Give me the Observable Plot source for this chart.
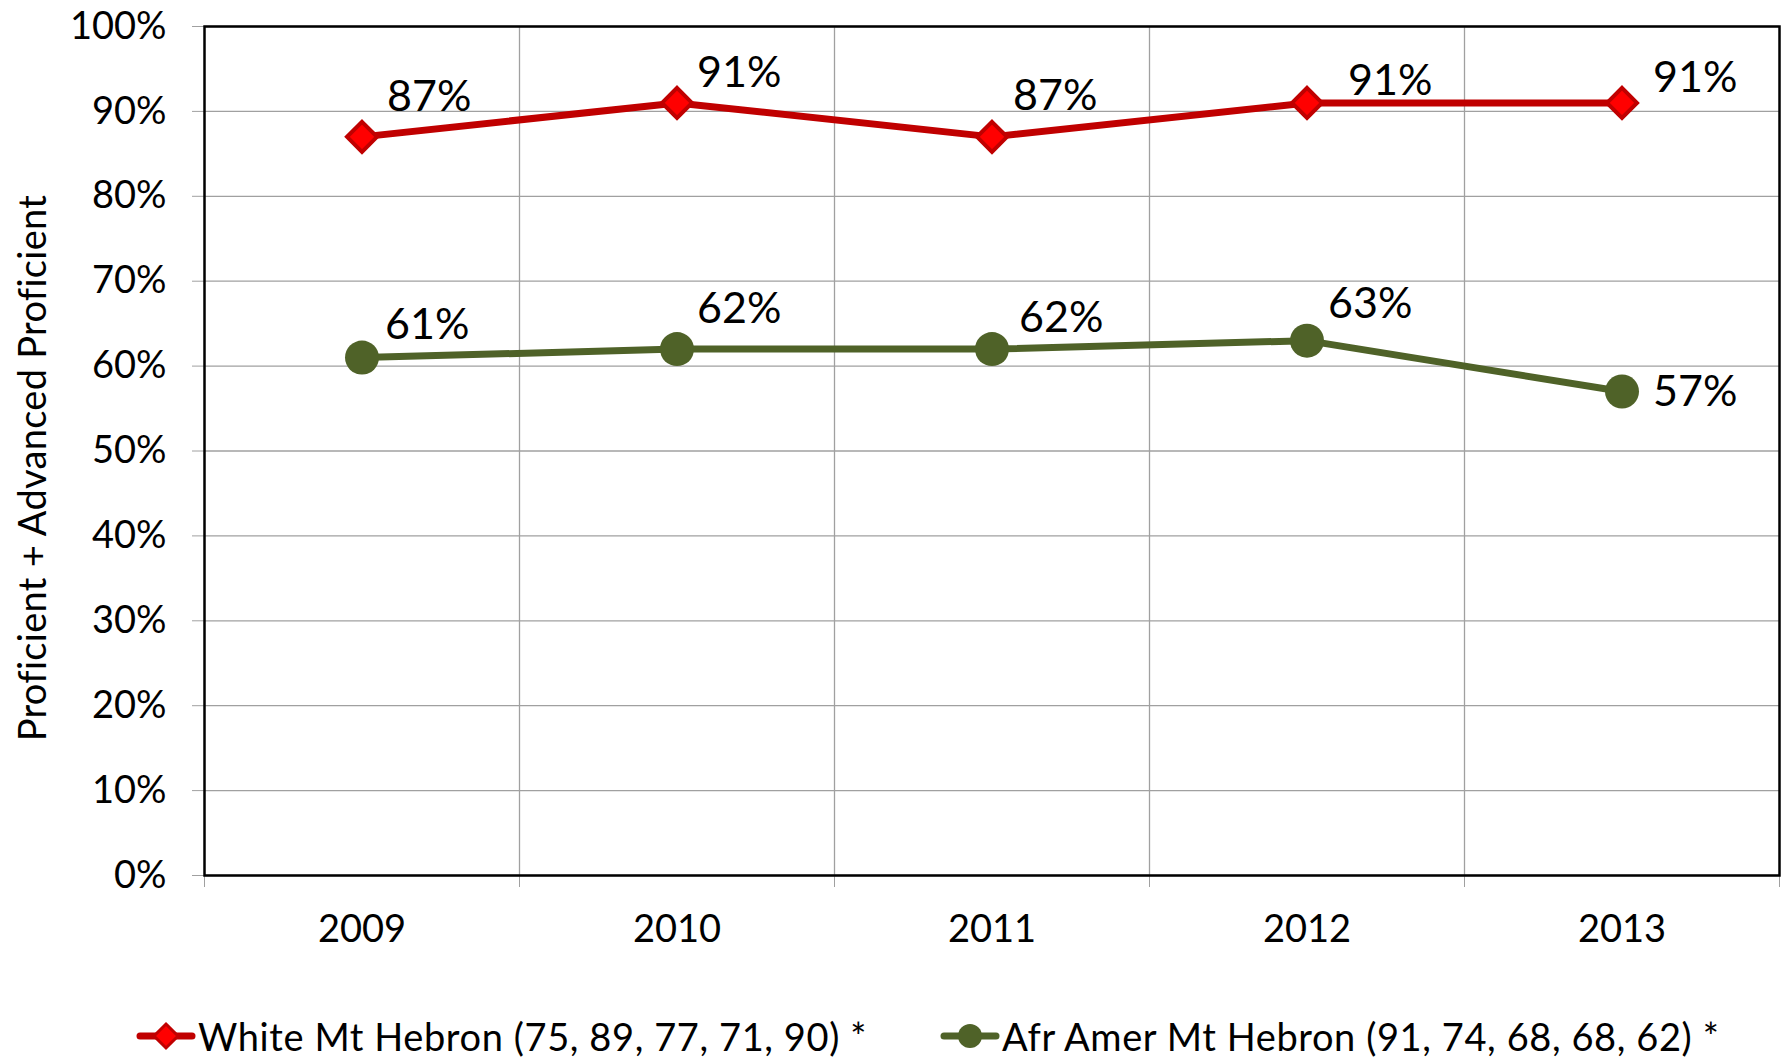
<!DOCTYPE html>
<html>
<head>
<meta charset="utf-8">
<script src="https://cdn.jsdelivr.net/npm/d3@7"></script>
<script src="https://cdn.jsdelivr.net/npm/@observablehq/plot@0.6"></script>
<style>
  html, body { margin: 0; padding: 0; background: #fff; }
  #wrap { position: relative; width: 1781px; height: 1060px; font-family: Lato, sans-serif; }
  #ytitle { position: absolute; left: 31px; top: 468px; transform: translate(-50%, -50%) rotate(-90deg); font-size: 38px; white-space: nowrap; color: #000; letter-spacing: 0.3px; }
  #legend { position: absolute; left: 0; top: 970px; width: 1781px; height: 90px; }
  .item { position: absolute; top: 43px; display: flex; align-items: center; font-size: 38px; letter-spacing: 0.6px; color: #000; white-space: nowrap; }
  .item svg { display: block; margin-right: 2px; }
</style>
</head>
<body>
<div id="wrap">
  <div id="chart"></div>
  <div id="ytitle"></div>
  <div id="legend"></div>
</div>
<script>
// ---- data ----
const years = [2009, 2010, 2011, 2012, 2013];
const whiteValues = [87, 91, 87, 91, 91];
const afrAmerValues = [61, 62, 62, 63, 57];
const yTickValues = [0, 10, 20, 30, 40, 50, 60, 70, 80, 90, 100];
const seriesNames = ["White Mt Hebron (75, 89, 77, 71, 90) *", "Afr Amer Mt Hebron (91, 74, 68, 68, 62) *"];
const yTitle = "Proficient + Advanced Proficient";

// label nudges (px) as placed in the original
const whiteLabelNudge = [[25, -40], [20, -30], [21, -41], [41, -22], [31, -25]];
const afrLabelNudge = [[23, -32], [20, -40], [27, -31], [21, -36], [31, 1]];

const colors = {
  white: { line: "#C00000", fill: "#FF0000" },
  afr: { line: "#4F6228", fill: "#4F6228" }
};

const whiteData = years.map((y, i) => ({ year: y, value: whiteValues[i] }));
const afrData = years.map((y, i) => ({ year: y, value: afrAmerValues[i] }));
const boundaries = [years[0] - 0.5, ...years.map(y => y + 0.5)];
const inner = boundaries.slice(1, -1);

const pct = d => d + "%";

const labelMarks = (data, nudges) => data.map((d, i) =>
  Plot.text([d], {
    x: "year", y: "value", text: dd => pct(dd.value),
    textAnchor: "start", lineAnchor: "middle",
    dx: nudges[i][0], dy: nudges[i][1],
    fontSize: 43, fill: "#000"
  })
);

const chart = Plot.plot({
  width: 1781,
  height: 970,
  marginLeft: 204,
  marginRight: 2,
  marginTop: 26,
  marginBottom: 95,
  style: { fontFamily: "Lato, sans-serif", fontSize: "38px", color: "#000", background: "#fff" },
  x: { type: "linear", domain: [boundaries[0], boundaries[boundaries.length - 1]] },
  y: { domain: [0, 100] },
  marks: [
    Plot.gridY(yTickValues, { stroke: "#a0a0a0", strokeOpacity: 1, strokeWidth: 1.3 }),
    Plot.gridX(inner, { stroke: "#a0a0a0", strokeOpacity: 1, strokeWidth: 1.3 }),
    Plot.axisY(yTickValues, { tickSize: 12, tickPadding: 26, tickFormat: pct, stroke: "#a0a0a0", fill: "#000", label: null, fontSize: 38 }),
    Plot.axisX(boundaries, { tickSize: 12, tickFormat: () => "", stroke: "#a0a0a0", label: null }),
    Plot.axisX(years, { tickSize: 0, tickPadding: 40, tickFormat: d => String(d), fill: "#000", label: null, fontSize: 38 }),
    Plot.frame({ stroke: "#000", strokeWidth: 2.5 }),
    Plot.line(whiteData, { x: "year", y: "value", stroke: colors.white.line, strokeWidth: 7 }),
    Plot.line(afrData, { x: "year", y: "value", stroke: colors.afr.line, strokeWidth: 7 }),
    Plot.dot(whiteData, { x: "year", y: "value", symbol: "diamond2", r: 13.5, fill: colors.white.fill, stroke: colors.white.line, strokeWidth: 4 }),
    Plot.dot(afrData, { x: "year", y: "value", symbol: "circle", r: 17, fill: colors.afr.fill, stroke: "none" }),
    ...labelMarks(whiteData, whiteLabelNudge),
    ...labelMarks(afrData, afrLabelNudge)
  ]
});
document.getElementById("chart").appendChild(chart);
document.getElementById("ytitle").textContent = yTitle;

// ---- legend ----
const legend = document.getElementById("legend");
const legendItems = [
  { name: seriesNames[0], c: colors.white, shape: "diamond", left: 136 },
  { name: seriesNames[1], c: colors.afr, shape: "circle", left: 940 }
];
legendItems.forEach(it => {
  const div = document.createElement("div");
  div.className = "item";
  div.style.left = it.left + "px";
  const ns = "http://www.w3.org/2000/svg";
  const svg = document.createElementNS(ns, "svg");
  svg.setAttribute("width", 60); svg.setAttribute("height", 30);
  const ln = document.createElementNS(ns, "line");
  ln.setAttribute("x1", 4); ln.setAttribute("x2", 56); ln.setAttribute("y1", 15); ln.setAttribute("y2", 15);
  ln.setAttribute("stroke", it.c.line); ln.setAttribute("stroke-width", 7); ln.setAttribute("stroke-linecap", "round");
  svg.appendChild(ln);
  if (it.shape === "diamond") {
    const p = document.createElementNS(ns, "path");
    p.setAttribute("d", "M30,3 L42,15 L30,27 L18,15 Z");
    p.setAttribute("fill", it.c.fill); p.setAttribute("stroke", it.c.line); p.setAttribute("stroke-width", 3);
    svg.appendChild(p);
  } else {
    const c = document.createElementNS(ns, "circle");
    c.setAttribute("cx", 30); c.setAttribute("cy", 15); c.setAttribute("r", 12);
    c.setAttribute("fill", it.c.fill);
    svg.appendChild(c);
  }
  div.appendChild(svg);
  const span = document.createElement("span");
  span.textContent = it.name;
  div.appendChild(span);
  legend.appendChild(div);
});
</script>
</body>
</html>
